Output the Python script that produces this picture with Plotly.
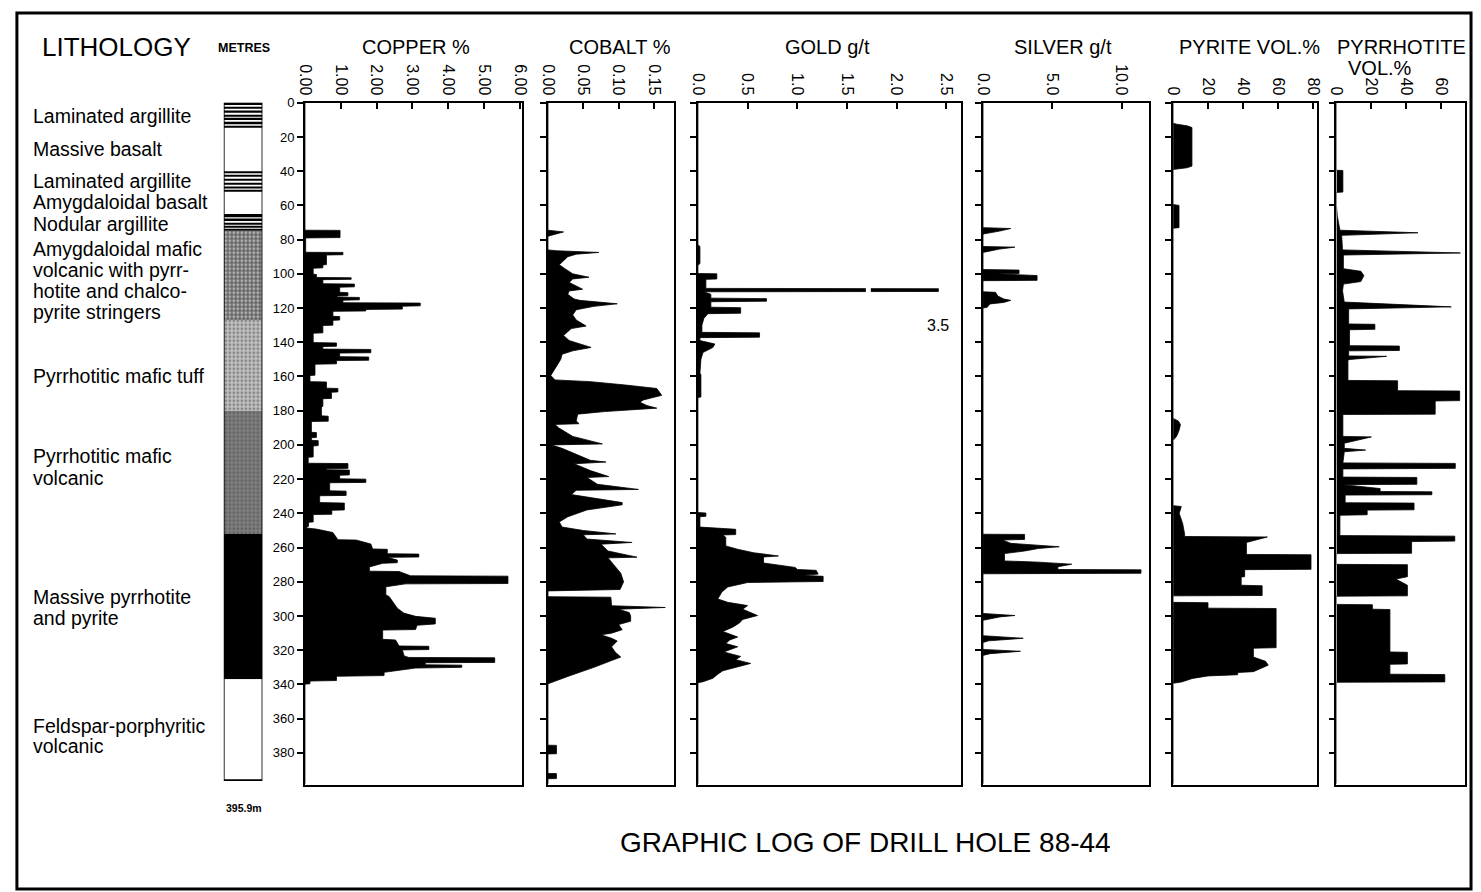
import plotly.graph_objects as go

W, H = 1481, 892

# ---------------- DATA ----------------
DEPTH_TICKS = list(range(0, 381, 20))
HOLE_DEPTH = 395.9

LITH_TOP = [0, 15, 40, 52, 65, 75, 127, 180, 252, 337]
LITH_BOTTOM = [15, 40, 52, 65, 75, 127, 180, 252, 337, 395.9]
LITH_KIND = ["lam", "white", "lam", "white", "nod", "amv", "tuff", "pmv", "massive", "white"]

# black laminae inside the argillite units (depth of centre, thickness), m
LAMINA_DEPTH = [0.8, 3.0, 5.2, 7.6, 9.6, 11.8, 14.0,
                40.6, 42.8, 45.0, 47.3, 49.5, 51.4,
                66.0, 68.4, 70.6, 72.6, 74.4]
LAMINA_THICK = [1.0, 0.8, 1.2, 0.8, 1.0, 1.4, 0.8,
                1.2, 0.8, 1.0, 0.8, 1.2, 0.8,
                2.0, 1.4, 0.8, 0.8, 0.8]

LITH_LABELS = [
    ("Laminated argillite", 7.8), ("Massive basalt", 27.0), ("Laminated argillite", 45.6),
    ("Amygdaloidal basalt", 58.0), ("Nodular argillite", 71.0),
    ("Amygdaloidal mafic", 85.5), ("volcanic with pyrr-", 97.7), ("hotite and chalco-", 109.9),
    ("pyrite stringers", 122.1), ("Pyrrhotitic mafic tuff", 159.8),
    ("Pyrrhotitic mafic", 206.7), ("volcanic", 219.5),
    ("Massive pyrrhotite", 289.0), ("and pyrite", 301.2),
    ("Feldspar-porphyritic", 364.0), ("volcanic", 376.0),
]

CU_TICKS = [0, 1, 2, 3, 4, 5, 6]
CU_TICKTEXT = ["0.00", "1.00", "2.00", "3.00", "4.00", "5.00", "6.00"]
CO_TICKS = [0, 0.05, 0.10, 0.15]
CO_TICKTEXT = ["0.00", "0.05", "0.10", "0.15"]
AU_TICKS = [0, 0.5, 1.0, 1.5, 2.0, 2.5]
AU_TICKTEXT = ["0.0", "0.5", "1.0", "1.5", "2.0", "2.5"]
AG_TICKS = [0, 5, 10]
AG_TICKTEXT = ["0.0", "5.0", "10.0"]
PY_TICKS = [0, 20, 40, 60, 80]
PY_TICKTEXT = ["0", "20", "40", "60", "80"]
PO_TICKS = [0, 20, 40, 60]
PO_TICKTEXT = ["0", "20", "40", "60"]

# (depth m, value)
CU_PROFILE = [
    (0, 0), (74.5, 0), (74.6, 0.98), (78.8, 0.98), (79, 0.02), (87.4, 0.02), (87.5, 1.06), (88.8, 1.06),
    (89, 0.6), (94.6, 0.6), (94.8, 0.5), (96.5, 0.5), (96.7, 0.23), (100.2, 0.23), (100.4, 0.32),
    (102.1, 0.32), (102.3, 1.29), (103.2, 1.29), (103.4, 0.5), (105.8, 0.5), (106, 1.38), (107.6, 1.38),
    (107.8, 0.97), (110.8, 0.97), (111, 1.2), (112.8, 1.2), (113, 0.9), (113.6, 0.9), (113.8, 1.52),
    (115.2, 1.52), (115.4, 1.06), (116.9, 1.06), (117.1, 3.22), (118.7, 3.22), (118.9, 2.72),
    (120.6, 2.72), (120.8, 1.7), (121.7, 1.7), (121.9, 0.78), (124.8, 0.78), (125, 0.97), (127, 0.97),
    (127.2, 0.78), (130, 0.78), (130.2, 0.5), (134.5, 0.5), (134.7, 0.23), (140.2, 0.23), (140.4, 0.88),
    (142.3, 0.88), (142.5, 0.5), (144, 0.5), (144.2, 1.84), (146.1, 1.84), (146.3, 0.97), (148.4, 0.97),
    (148.6, 1.78), (150.5, 1.78), (150.7, 0.88), (152.6, 0.88), (152.8, 0.28), (159.2, 0.28),
    (159.4, 0.14), (163, 0.14), (163.2, 0.6), (166.8, 0.6), (167, 0.92), (169, 0.92), (169.2, 0.74),
    (172.8, 0.74), (173, 0.5), (177.5, 0.5), (177.7, 0.46), (183, 0.46), (183.2, 0.65), (186.1, 0.65),
    (186.3, 0.18), (192.6, 0.18), (192.8, 0.32), (195.6, 0.32), (195.8, 0.18), (197.3, 0.18),
    (197.5, 0.37), (200.4, 0.37), (200.6, 0.23), (207, 0.23), (207.2, 0.09), (210.7, 0.09),
    (210.9, 1.2), (213.7, 1.2), (213.9, 0.6), (214.5, 0.6), (214.7, 1.24), (217.5, 1.24),
    (217.7, 0.97), (219.8, 0.97), (220, 1.7), (221.9, 1.7), (222.1, 0.69), (226.8, 0.69),
    (227, 1.15), (229.5, 1.15), (229.7, 0.41), (233.7, 0.41), (234, 1.1), (238, 1.1), (238.2, 0.75),
    (240.5, 0.75), (240.7, 0.23), (245, 0.23), (245.2, 0.1), (247.5, 0.1), (248.5, 0.02),
    (249.2, 0.32), (251.2, 0.78), (253, 0.83), (255.4, 0.92), (255.6, 1.43), (257.9, 1.84),
    (260.8, 1.89), (261, 2.3), (263.6, 2.3), (263.8, 3.18), (265.5, 3.18), (265.7, 2.3), (267.3, 2.58),
    (268.8, 2.58), (269.2, 2.17), (271.3, 1.8), (273.8, 1.8), (274, 2.63), (276.5, 2.95),
    (276.7, 5.67), (281, 5.67), (281.2, 2.81), (282.9, 2.26), (287.7, 2.26), (288.6, 2.35),
    (291.5, 2.44), (295.4, 2.58), (298.3, 2.76), (300.2, 3.09), (301.3, 3.64), (304.6, 3.64),
    (305.4, 3.13), (307.9, 3.09), (308.2, 2.17), (313.6, 2.17), (314, 2.53), (317.5, 2.63),
    (317.7, 3.46), (319.6, 3.46), (319.8, 2.72), (323.3, 2.77), (324.2, 2.9), (324.4, 5.3),
    (327.1, 5.3), (327.3, 3.36), (328.5, 3.36), (328.7, 4.38), (330, 4.38), (330.4, 3.09),
    (332.9, 2.21), (334.8, 2.21), (335.2, 0.88), (337.7, 0.88), (338, 0.14), (339.6, 0.14),
    (339.8, 0), (398, 0),
]

CO_PROFILE = [
    (0, 0), (74.5, 0), (75.5, 0.022), (77, 0.01), (78, 0), (86, 0), (86.5, 0.012), (87.5, 0.072),
    (88.5, 0.04), (90, 0.028), (94.7, 0.016), (97, 0.024), (100, 0.035), (102, 0.058), (103, 0.035),
    (105, 0.03), (109, 0.049), (110, 0.03), (112, 0.028), (114.7, 0.037), (115.5, 0.045),
    (117.5, 0.098), (119, 0.065), (121, 0.04), (124, 0.035), (127, 0.04), (130.5, 0.054),
    (132, 0.033), (136, 0.022), (139, 0.03), (143, 0.061), (145, 0.035), (147, 0.02), (150, 0.018),
    (155, 0.01), (159.4, 0.004), (162, 0.01), (163, 0.06), (165, 0.11), (167, 0.154), (171, 0.161),
    (173.7, 0.135), (175, 0.13), (177, 0.14), (178.5, 0.154), (180.5, 0.08), (182, 0.042),
    (186, 0.04), (187.6, 0.044), (188, 0.01), (190, 0.015), (195, 0.035), (199.4, 0.077),
    (200, 0.005), (202, 0.02), (207, 0.047), (209, 0.06), (210, 0.082), (211, 0.037), (215, 0.06),
    (218.5, 0.086), (219, 0.055), (223, 0.07), (226, 0.128), (226.5, 0.04), (229, 0.033),
    (233.7, 0.105), (235, 0.105), (238, 0.055), (242, 0.028), (245, 0.016), (248, 0.02), (250, 0.05),
    (252, 0.096), (252.5, 0.05), (255, 0.055), (257, 0.119), (258, 0.075), (262, 0.085),
    (265.6, 0.126), (266, 0.085), (270, 0.093), (275, 0.103), (280, 0.107), (284.5, 0.102),
    (285.3, 0), (288.7, 0), (289, 0.089), (294, 0.09), (295, 0.166), (296, 0.1), (298, 0.115),
    (300, 0.117), (303, 0.117), (305, 0.1), (308, 0.105), (310, 0.09), (311, 0.075), (313, 0.09),
    (314.6, 0.098), (318, 0.09), (321, 0.095), (324, 0.103), (326, 0.09), (330, 0.065), (335, 0.03),
    (339.6, 0), (375.5, 0), (375.6, 0.012), (380.5, 0.012), (380.6, 0), (392, 0), (392.1, 0.012),
    (395, 0.012), (395.1, 0), (398, 0),
]

AU_PROFILE = [
    (0, 0), (83, 0), (84, 0.02), (94, 0.02), (95, 0), (99.8, 0), (100, 0.19), (103, 0.19),
    (103.2, 0.08), (108.5, 0.08), (108.7, 3.5), (110.3, 3.5), (110.5, 0.06), (112, 0.13),
    (114.2, 0.13), (114.5, 0.69), (116, 0.69), (116.3, 0.13), (119.5, 0.13), (119.8, 0.43),
    (123, 0.43), (123.3, 0.1), (126, 0.06), (130, 0.04), (134.2, 0.04), (134.5, 0.62), (137, 0.62),
    (137.3, 0.02), (139, 0.02), (141, 0.17), (143, 0.15), (146, 0.05), (150, 0.03), (158, 0.02),
    (159, 0.03), (172, 0.03), (172.3, 0), (239.5, 0), (239.8, 0.08), (241.7, 0.08), (242, 0.02),
    (248, 0.02), (249.3, 0.38), (252.4, 0.38), (252.6, 0.25), (254, 0.28), (259, 0.28), (261, 0.4),
    (263, 0.56), (264.9, 0.81), (265.5, 0.66), (269, 0.66), (271.6, 0.98), (272.8, 1.0),
    (273.3, 1.19), (275.5, 1.21), (276.2, 1.05), (276.8, 1.26), (279.8, 1.26), (280.4, 0.5),
    (283, 0.3), (286, 0.24), (290, 0.2), (292, 0.3), (293.9, 0.5), (296, 0.45), (299.7, 0.6),
    (302, 0.45), (304, 0.42), (306.5, 0.35), (309, 0.25), (312.3, 0.4), (314, 0.32), (316, 0.28),
    (318, 0.4), (321, 0.26), (323.6, 0.43), (325.5, 0.38), (327.7, 0.53), (329.5, 0.42), (332, 0.25),
    (334, 0.2), (336.4, 0.15), (338.4, 0.05), (339, 0), (398, 0),
]
AU_DISPLAY_CAP = 2.42  # off-scale value drawn truncated

AG_PROFILE = [
    (0, 0), (73, 0), (73.5, 2.0), (75, 1.2), (76.6, 0.1), (77, 0), (84, 0), (84.4, 2.3), (85.5, 1.2),
    (86.8, 0.2), (87.5, 0), (97.5, 0), (97.8, 2.6), (99.8, 2.6), (100, 1.0), (101, 3.9), (103.8, 3.9),
    (104, 0), (110.5, 0), (110.8, 0.9), (113, 1.07), (114.7, 1.5), (115.5, 2.0), (116.7, 1.5),
    (117.6, 0.5), (119.6, 0.3), (120, 0), (252.2, 0), (252.3, 3.0), (255.2, 3.0), (255.6, 1.4),
    (257.5, 2.0), (259.5, 5.5), (260.5, 4.0), (262, 3.0), (263.5, 1.55), (267.8, 1.55), (268.5, 4.0),
    (269.7, 6.4), (271.2, 5.4), (272.8, 5.4), (273, 11.4), (275, 11.4), (275.3, 0), (298.5, 0),
    (299.7, 2.3), (300.5, 1.2), (302.5, 0), (311.5, 0), (313, 2.9), (314.5, 0.4), (315.5, 0),
    (319.5, 0), (320.6, 2.7), (322, 0.5), (323, 0), (398, 0),
]

PY_PROFILE = [
    (0, 0), (12, 0), (12.5, 2), (13.5, 8), (14.5, 10.8), (37, 10.8), (38, 8), (38.5, 2), (39, 0),
    (59.5, 0), (60, 3.4), (73, 3.4), (73.3, 0), (184.5, 0), (186, 3), (188, 4.2), (191, 3.6),
    (195, 2), (197.3, 0), (235.5, 0), (236, 4.7), (240, 3.5), (246, 5.5), (252, 6.6), (253.5, 6.6),
    (253.8, 54), (257, 42), (264, 42), (264.2, 79), (272.7, 79), (272.9, 41), (277, 41), (277.2, 39),
    (282, 39), (282.3, 51), (288, 51), (288.2, 0), (292, 0), (292.2, 20), (295.4, 20), (295.6, 59),
    (318.5, 59), (318.8, 46), (324, 46), (326.5, 53), (328.7, 54.5), (330.5, 50), (332.5, 46),
    (333, 37), (334.3, 37), (335, 20), (336.5, 11), (338.5, 5), (339.3, 0), (398, 0),
]

PO_PROFILE = [
    (0, 0), (39.5, 0), (39.6, 3.7), (52.2, 3.7), (52.4, 0), (60, 0), (66, 0.5), (72, 1.5),
    (74.5, 2), (76, 46.6), (77.5, 3), (86, 3.5), (87.8, 70.9), (89, 4), (97, 4), (98.5, 14),
    (101, 15.7), (104.5, 14), (106, 4), (110, 3.5), (116.5, 4.5), (119.3, 65.7), (120.5, 7),
    (129.3, 7), (129.5, 22), (132.4, 22), (132.7, 7.5), (142, 7.5), (142.2, 36), (144.8, 36),
    (145, 7), (148, 7), (148.2, 28.7), (150, 8), (150.3, 6.6), (162.3, 6.6), (162.5, 35),
    (168.3, 35), (168.5, 70.5), (174.1, 70.5), (174.3, 56.5), (182, 56.5), (182.2, 3.7),
    (195, 3.7), (195.3, 20), (198.2, 8), (199, 4.5), (202, 4.5), (203, 16.7), (204, 4.5),
    (210.5, 3.7), (210.8, 68), (213.7, 68), (214, 3.7), (218.8, 3.7), (219, 46), (223, 46),
    (223.2, 3.7), (225.5, 25), (227.2, 25), (227.4, 54.6), (229.1, 54.6), (229.3, 5), (233.8, 5),
    (234, 44.4), (237.9, 44.4), (238.1, 17.6), (240.8, 17.6), (241.1, 2), (253, 2), (253.3, 67.7),
    (256.2, 67.7), (256.5, 43), (263.3, 43), (263.5, 0), (269.8, 0), (270, 40.6), (277, 40.6),
    (278.4, 34), (282, 40.6), (288.2, 40.6), (288.4, 0), (293.2, 0), (293.4, 20.6), (296, 20.6),
    (296.2, 30.6), (321, 30.6), (321.2, 40.6), (328, 40.6), (328.2, 30.6), (334, 30.6),
    (334.2, 62), (338.5, 62), (338.7, 0), (398, 0),
]

# ---------------- LAYOUT HELPERS ----------------
def fx(p):
    return p / W


def fy(p):
    return 1 - p / H


Y_TOP_PX, Y_BOT_PX, PX_PER_M = 96.5, 784.0, 1.7245
DEPTH_MAX = (Y_BOT_PX - Y_TOP_PX) / PX_PER_M
Y_DOMAIN = [fy(Y_BOT_PX), fy(Y_TOP_PX)]
FONT = "Liberation Sans, Arial, Helvetica, sans-serif"

panels = [
    dict(title="COPPER %", tx=412, prof=CU_PROFILE, dom=(300, 519), rng=(0, 6.055), tv=CU_TICKS, tt=CU_TICKTEXT),
    dict(title="COBALT %", tx=618, prof=CO_PROFILE, dom=(545.5, 673), rng=(0, 0.1786), tv=CO_TICKS, tt=CO_TICKTEXT),
    dict(title="GOLD g/t", tx=828, prof=AU_PROFILE, dom=(697, 963), rng=(0, 2.65), tv=AU_TICKS, tt=AU_TICKTEXT),
    dict(title="SILVER g/t", tx=1066, prof=AG_PROFILE, dom=(985, 1153), rng=(0, 12.0), tv=AG_TICKS, tt=AG_TICKTEXT),
    dict(title="PYRITE VOL.%", tx=1254, prof=PY_PROFILE, dom=(1177, 1322), rng=(0, 82.2), tv=PY_TICKS, tt=PY_TICKTEXT),
    dict(title="PYRRHOTITE", tx=1408, prof=PO_PROFILE, dom=(1342, 1472), rng=(0, 73.6), tv=PO_TICKS, tt=PO_TICKTEXT),
]

fig = go.Figure()
layout = {}
annotations = []
shapes = []

for i, p in enumerate(panels, start=1):
    sfx = "" if i == 1 else str(i)
    depths = [d for d, v in p["prof"]]
    vals = [v for d, v in p["prof"]]
    if i == 3:
        vals = [min(v, AU_DISPLAY_CAP) for v in vals]
    fig.add_trace(go.Scatter(
        x=vals, y=depths, xaxis="x" + sfx, yaxis="y" + sfx, mode="lines",
        line=dict(color="black", width=0.8), fill="tozerox", fillcolor="black",
        hoverinfo="skip", showlegend=False,
    ))
    layout["xaxis" + sfx] = dict(
        domain=[fx(p["dom"][0]), fx(p["dom"][1])], range=list(p["rng"]), side="top",
        anchor="y" + sfx, tickvals=p["tv"], ticktext=p["tt"], tickangle=90,
        ticks="inside", ticklen=6, tickwidth=2, tickcolor="black",
        tickfont=dict(family=FONT, size=16, color="black"),
        showline=True, linewidth=1.6, linecolor="black", mirror=True,
        showgrid=False, zeroline=False, fixedrange=True,
    )
    ya = dict(
        domain=Y_DOMAIN, range=[DEPTH_MAX, 0], anchor="x" + sfx,
        tickvals=DEPTH_TICKS, ticks="outside", ticklen=6, tickwidth=2, tickcolor="black",
        showline=True, linewidth=1.6, linecolor="black", mirror=True,
        showgrid=False, zeroline=False, fixedrange=True,
        tickfont=dict(family=FONT, size=13, color="black"),
        showticklabels=(i == 1),
    )
    if i > 1:
        ya["matches"] = "y"
    layout["yaxis" + sfx] = ya
    annotations.append(dict(
        text=p["title"], x=fx(p["tx"]), y=fy(40), xref="paper", yref="paper",
        xanchor="center", yanchor="middle", showarrow=False,
        font=dict(family=FONT, size=20, color="black"),
    ))

annotations.append(dict(text="VOL.%", x=fx(1386), y=fy(61), xref="paper", yref="paper",
                        xanchor="center", yanchor="middle", showarrow=False,
                        font=dict(family=FONT, size=20, color="black")))

# Gold off-scale label and break in the truncated spike
au_peak = max(v for d, v in AU_PROFILE)
au_peak_depth = [d for d, v in AU_PROFILE if v == au_peak]
annotations.append(dict(text=f"{au_peak}", x=AU_DISPLAY_CAP, y=au_peak_depth[0] + 21.5,
                        xref="x3", yref="y", xanchor="center", yanchor="middle", showarrow=False,
                        font=dict(family=FONT, size=16, color="black")))
shapes.append(dict(type="rect", xref="x3", yref="y", x0=1.69, x1=1.74,
                   y0=au_peak_depth[0] - 1, y1=au_peak_depth[-1] + 1,
                   fillcolor="white", line=dict(width=0), layer="above"))

# ---------------- LITHOLOGY COLUMN ----------------
STYLE = {
    "white": dict(color="white", shape="", fg="black", size=4, sol=0.3),
    "lam": dict(color="white", shape="", fg="black", size=4, sol=0.3),
    "nod": dict(color="white", shape="", fg="black", size=4, sol=0.3),
    "amv": dict(color="#666666", shape=".", fg="black", size=4, sol=0.4),
    "tuff": dict(color="#c4c4c4", shape=".", fg="#666666", size=4, sol=0.4),
    "pmv": dict(color="#808080", shape=".", fg="#202020", size=4, sol=0.4),
    "massive": dict(color="black", shape="", fg="black", size=4, sol=0.3),
}
mids = [(t + b) / 2 for t, b in zip(LITH_TOP, LITH_BOTTOM)]
thick = [b - t for t, b in zip(LITH_TOP, LITH_BOTTOM)]
fig.add_trace(go.Bar(
    orientation="h", x=[1] * len(mids), y=mids, width=thick, base=0,
    xaxis="x7", yaxis="y", hoverinfo="skip", showlegend=False,
    marker=dict(
        color=[STYLE[k]["color"] for k in LITH_KIND], line=dict(width=0),
        pattern=dict(
            shape=[STYLE[k]["shape"] for k in LITH_KIND],
            fgcolor=[STYLE[k]["fg"] for k in LITH_KIND],
            size=[STYLE[k]["size"] for k in LITH_KIND],
            solidity=[STYLE[k]["sol"] for k in LITH_KIND],
            fillmode="overlay",
        ),
    ),
))
fig.add_trace(go.Bar(
    orientation="h", x=[1] * len(LAMINA_DEPTH), y=LAMINA_DEPTH, width=LAMINA_THICK, base=0,
    xaxis="x7", yaxis="y", hoverinfo="skip", showlegend=False,
    marker=dict(color="black", line=dict(width=0)),
))
layout["xaxis7"] = dict(domain=[fx(218), fx(257)], range=[0, 1], visible=False,
                        anchor="y", fixedrange=True)
shapes.append(dict(type="rect", xref="x7", yref="y", x0=0, x1=1, y0=0, y1=HOLE_DEPTH,
                   line=dict(color="black", width=1.6), fillcolor="rgba(0,0,0,0)"))

for text, depth in LITH_LABELS:
    annotations.append(dict(text=text, x=fx(23), y=depth, xref="paper", yref="y",
                            xanchor="left", yanchor="middle", showarrow=False,
                            font=dict(family=FONT, size=19.5, color="black")))

annotations += [
    dict(text="LITHOLOGY", x=fx(32), y=fy(40), xref="paper", yref="paper", xanchor="left",
         yanchor="middle", showarrow=False, font=dict(family=FONT, size=26, color="black")),
    dict(text="<b>METRES</b>", x=fx(238), y=fy(41), xref="paper", yref="paper", xanchor="center",
         yanchor="middle", showarrow=False, font=dict(family=FONT, size=12.5, color="black")),
    dict(text=f"<b>{HOLE_DEPTH}m</b>", x=fx(238), y=fy(807), xref="paper", yref="paper",
         xanchor="center", yanchor="middle", showarrow=False,
         font=dict(family=FONT, size=10.5, color="black")),
    dict(text="GRAPHIC LOG OF DRILL HOLE 88-44", x=fx(866), y=fy(842), xref="paper", yref="paper",
         xanchor="center", yanchor="middle", showarrow=False,
         font=dict(family=FONT, size=28, color="black")),
]

# outer frame
shapes.append(dict(type="rect", xref="paper", yref="paper", x0=fx(9), x1=fx(1478),
                   y0=fy(889), y1=fy(6), line=dict(color="black", width=3)))

fig.update_layout(
    width=W, height=H, margin=dict(l=0, r=0, t=0, b=0),
    paper_bgcolor="white", plot_bgcolor="white", barmode="overlay",
    showlegend=False, annotations=annotations, shapes=shapes, **layout,
)

fig.write_html(
    "out.html",
    config={"displayModeBar": False},
    post_script="document.body.style.margin='0';document.body.style.overflow='hidden';"
                "document.documentElement.style.overflow='hidden';",
)
